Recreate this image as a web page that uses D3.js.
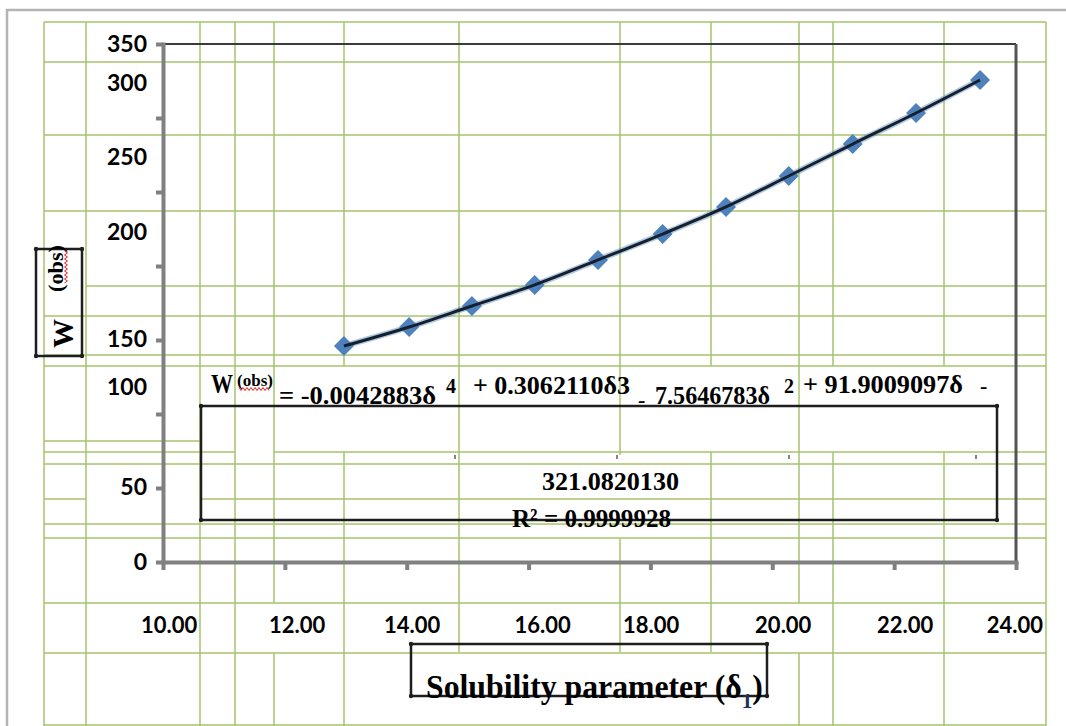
<!DOCTYPE html>
<html>
<head>
<meta charset="utf-8">
<script src="https://cdn.jsdelivr.net/npm/d3@7"></script>
<style>
  body { margin: 0; background: #fff; }
  svg { display: block; }
</style>
</head>
<body>
<svg id="chart" width="1066" height="726"></svg>
<script>
// solubility parameter (delta 1) and observed W
const delta = [12.97, 14.04, 15.07, 16.1, 17.14, 18.2, 19.24, 20.27, 21.32, 22.36, 23.41];
const wObs = [145.9, 158.8, 173.0, 187.2, 204.1, 221.6, 239.9, 260.8, 282.4, 303.4, 325.7];

const yTicks = [0, 50, 100, 150, 200, 250, 300, 350];
const yTickLabels = ['0', '50', '100', '150', '200', '250', '300', '350'];
// the pasted labels do not sit on their ticks; where they sit, in axis units
const yLabelAt = [0, 51, 118, 151, 223, 274, 324, 350];

const xTicks = [10, 12, 14, 16, 18, 20, 22, 24];
const xTickLabels = ['10.00', '12.00', '14.00', '16.00', '18.00', '20.00', '22.00', '24.00'];
const xLabelAt = [10.1, 12.2, 14.09, 16.23, 18.01, 20.18, 22.18, 23.98];

const svg = d3.select('#chart');

const x = d3.scaleLinear().domain([10, 24]).range([163, 1016]);
const y = d3.scaleLinear().domain([0, 350]).range([562, 44]);

// spreadsheet cell lines behind the chart
const sheetCols = [
  [44, 22, 726], [86, 22, 726], [200, 22, 726], [235, 22, 726],
  [274, 22, 603], [274, 653, 726], [344, 22, 366], [344, 452, 726],
  [459, 22, 652], [620, 22, 455], [620, 539, 652],
  [711, 22, 366], [711, 452, 652], [799, 22, 603], [799, 653, 726],
  [833, 22, 366], [833, 452, 726], [944, 22, 366], [944, 452, 726],
  [1046, 22, 726]
];
const sheetRows = [
  [22, 44, 1046], [62, 44, 1046], [135, 44, 1046], [211, 44, 1046],
  [286, 86, 1046], [316, 44, 1046], [355, 44, 1046], [366, 44, 1046],
  [441, 44, 200], [452, 44, 235], [452, 274, 1046], [464, 44, 1046],
  [499, 44, 86], [499, 200, 1046], [524, 44, 1046], [538, 44, 1046],
  [603, 44, 1046], [653, 44, 1046], [725, 44, 1046]
];

const sheet = svg.append('g').attr('stroke', '#a5c36c').attr('stroke-width', 1.5);
sheet.selectAll('line.c').data(sheetCols).enter().append('line')
  .attr('x1', d => d[0]).attr('x2', d => d[0]).attr('y1', d => d[1]).attr('y2', d => d[2]);
sheet.selectAll('line.r').data(sheetRows).enter().append('line')
  .attr('y1', d => d[0]).attr('y2', d => d[0]).attr('x1', d => d[1]).attr('x2', d => d[2]);

// outer page frame
svg.append('path').attr('d', 'M7,726V10H1066')
  .attr('fill', 'none').attr('stroke', '#b4b4b4').attr('stroke-width', 2.5);

// plot frame, top and right
svg.append('line').attr('x1', x(10)).attr('x2', x(24)).attr('y1', y(350)).attr('y2', y(350))
  .attr('stroke', '#3c3c3c').attr('stroke-width', 2);
svg.append('line').attr('x1', x(24)).attr('x2', x(24)).attr('y1', y(350)).attr('y2', y(0))
  .attr('stroke', '#555').attr('stroke-width', 3);

// axes
const yAxis = svg.append('g').attr('transform', `translate(${x(10)},0)`)
  .call(d3.axisLeft(y).tickValues(yTicks).tickSize(7).tickSizeOuter(0).tickFormat(''));
const xAxis = svg.append('g').attr('transform', `translate(0,${y(0)})`)
  .call(d3.axisBottom(x).tickValues(xTicks).tickSize(8).tickSizeOuter(0).tickFormat(''));
[yAxis, xAxis].forEach(g => {
  g.select('.domain').attr('stroke', '#808080').attr('stroke-width', 4).attr('stroke-linecap', 'square');
  g.selectAll('.tick line').attr('stroke', '#808080').attr('stroke-width', 4);
});

svg.append('g').selectAll('text').data(yTickLabels).enter().append('text')
  .attr('x', 147)
  .attr('y', (d, i) => y(yLabelAt[i]))
  .attr('dy', '0.35em')
  .attr('text-anchor', 'end')
  .style('font', 'bold 23px Lato')
  .text(d => d);

svg.append('g').selectAll('text').data(xTickLabels).enter().append('text')
  .attr('x', (d, i) => x(xLabelAt[i]))
  .attr('y', 633)
  .attr('text-anchor', 'middle')
  .style('font', 'bold 22px Lato')
  .text(d => d);

// boxes with small corner dots
function box(x0, y0, x1, y1) {
  svg.append('rect').attr('x', x0).attr('y', y0).attr('width', x1 - x0).attr('height', y1 - y0)
    .attr('fill', 'none').attr('stroke', '#1e1e1e').attr('stroke-width', 2.5);
  svg.append('g').selectAll('circle').data([[x0, y0], [x1, y0], [x0, y1], [x1, y1]]).enter()
    .append('circle').attr('cx', d => d[0]).attr('cy', d => d[1]).attr('r', 2.2).attr('fill', '#1e1e1e');
}

function wavy(x0, y0, len, vertical) {
  let p = '';
  for (let i = 0; i <= len; i += 2) {
    const o = (i / 2) % 2 ? 1.5 : -1.5;
    p += (i ? 'L' : 'M') + (vertical ? `${x0 + o},${y0 + i}` : `${x0 + i},${y0 + o}`);
  }
  svg.append('path').attr('d', p).attr('fill', 'none').attr('stroke', '#e32020').attr('stroke-width', 1);
}

// trendline equation
box(201, 406, 997, 520);
const serif = 'Liberation Serif';
const eqParts = [
  { t: 'W', x: 211, y: 393, s: 27, len: 22 },
  { t: '(obs)', x: 237, y: 386, s: 17, len: 36 },
  { t: '= -0.0042883δ', x: 279, y: 404, s: 25, len: 157 },
  { t: '4', x: 446, y: 393, s: 20 },
  { t: '+ 0.3062110δ3', x: 473, y: 394, s: 25, len: 157 },
  { t: '-', x: 638, y: 407, s: 22 },
  { t: '7.5646783δ', x: 655, y: 404, s: 25, len: 115 },
  { t: '2', x: 784, y: 393, s: 20 },
  { t: '+ 91.9009097δ', x: 803, y: 393, s: 25, len: 160 },
  { t: '-', x: 980, y: 393, s: 22 },
  { t: '321.0820130', x: 542, y: 490, s: 26, len: 137 },
  { t: 'R² = 0.9999928', x: 512, y: 527, s: 26, len: 159 }
];
svg.append('g').selectAll('text').data(eqParts).enter().append('text')
  .attr('x', d => d.x).attr('y', d => d.y)
  .attr('textLength', d => d.len || null)
  .attr('lengthAdjust', 'spacingAndGlyphs')
  .style('font-family', serif).style('font-weight', 'bold')
  .style('font-size', d => d.s + 'px')
  .text(d => d.t);
wavy(239, 389, 30, false);
svg.append('g').selectAll('line').data([455, 617, 789, 976]).enter().append('line')
  .attr('x1', d => d).attr('x2', d => d).attr('y1', 455).attr('y2', 459)
  .attr('stroke', '#333').attr('stroke-width', 1.2);

// y title
box(36, 249, 82, 356);
svg.append('text').attr('transform', 'translate(73,348) rotate(-90)')
  .attr('textLength', 29).attr('lengthAdjust', 'spacingAndGlyphs')
  .style('font', `bold 30px "${serif}"`).text('W');
svg.append('text').attr('transform', 'translate(63,292) rotate(-90)')
  .attr('textLength', 47).attr('lengthAdjust', 'spacingAndGlyphs')
  .style('font', `bold 21px "${serif}"`).text('(obs)');
wavy(66, 251, 32, true);

// x title, squeezed to the width it has in the picture
box(411, 644, 767, 696);
const xTitle = svg.append('text')
  .style('font', `bold 33px "${serif}"`);
xTitle.append('tspan').text('Solubility parameter (δ');
xTitle.append('tspan').attr('dy', 10).style('font-size', '22px').attr('fill', '#1f2f5a').text('1');
xTitle.append('tspan').attr('dy', -10).text(')');
const tw = xTitle.node().getComputedTextLength();
xTitle.attr('transform', `translate(426,698) scale(${337 / tw},1)`);

// observed points and fitted curve
const pts = delta.map((d, i) => [d, wObs[i]]);
svg.append('g').selectAll('path').data(pts).enter().append('path')
  .attr('d', d3.symbol(d3.symbolSquare, 200))
  .attr('transform', d => `translate(${x(d[0])},${y(d[1])}) rotate(45)`)
  .attr('fill', '#4f81bd');

const line = d3.line().x(d => x(d[0])).y(d => y(d[1])).curve(d3.curveCatmullRom);
svg.append('path').datum(pts).attr('d', line)
  .attr('fill', 'none').attr('stroke', '#4f81bd').attr('stroke-opacity', 0.45).attr('stroke-width', 6);
svg.append('path').datum(pts).attr('d', line)
  .attr('fill', 'none').attr('stroke', '#14202e').attr('stroke-width', 3);
</script>
</body>
</html>
